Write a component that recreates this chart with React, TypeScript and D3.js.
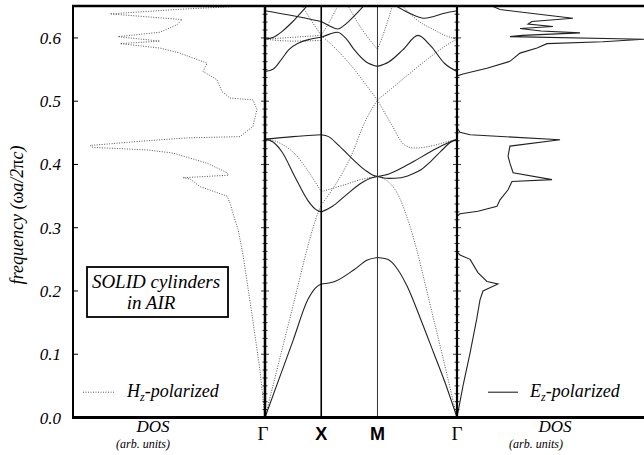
import React from 'react';
import * as d3 from 'd3';

const W = 644;
const H = 455;

// frequency axis
const yTicks = [0, 0.1, 0.2, 0.3, 0.4, 0.5, 0.6];
const yTickLabels = ['0.0', '0.1', '0.2', '0.3', '0.4', '0.5', '0.6'];
const fMax = 0.65;

// k-path: Γ X M Γ
const kPoints = [0, 1, 2, 2 + Math.SQRT2];
const kLabels = ['Γ', 'X', 'M', 'Γ'];

type P = [number, number];

// E_z (TM) bands, solid  [k, frequency]
const tm1: P[] = [[0, 0], [0.25, 0.061], [0.5, 0.122], [0.76, 0.186], [0.9, 0.205], [1, 0.211], [1.24, 0.215], [1.59, 0.234], [1.82, 0.249], [2, 0.253], [2.18, 0.25], [2.36, 0.234], [2.53, 0.207], [2.77, 0.155], [3.0, 0.102], [3.19, 0.058], [3.414, 0]];
const tm2: P[] = [[0, 0.44], [0.15, 0.435], [0.3, 0.42], [0.54, 0.379], [0.77, 0.342], [0.9, 0.329], [1, 0.325], [1.2, 0.334], [1.42, 0.35], [1.72, 0.371], [1.9, 0.379], [2, 0.381]];
const tm3: P[] = [[0, 0.44], [0.5, 0.444], [1, 0.447], [1.13, 0.444], [1.3, 0.431], [1.54, 0.41], [1.78, 0.391], [1.92, 0.383], [2, 0.381]];
const tm4: P[] = [[2, 0.381], [2.2, 0.385], [2.42, 0.394], [2.65, 0.405], [2.9, 0.418], [3.15, 0.43], [3.414, 0.44]];
const tm5: P[] = [[2, 0.381], [2.2, 0.378], [2.42, 0.379], [2.6, 0.384], [2.78, 0.392], [2.95, 0.405], [3.13, 0.421], [3.3, 0.435], [3.414, 0.44]];
const tm6: P[] = [[0, 0.547], [0.15, 0.551], [0.3, 0.567], [0.42, 0.581], [0.6, 0.592], [0.8, 0.598], [1, 0.601], [1.15, 0.606], [1.29, 0.609], [1.45, 0.598], [1.59, 0.581], [1.8, 0.562], [2, 0.555], [2.2, 0.562], [2.45, 0.581], [2.72, 0.604], [2.95, 0.587], [3.19, 0.56], [3.414, 0.547]];
const tm7: P[] = [[0, 0.643], [0.5, 0.635], [1, 0.626], [1.15, 0.619], [1.29, 0.614], [1.45, 0.623], [1.6, 0.636], [1.77, 0.652]];
const tm8: P[] = [[0, 0.598], [0.15, 0.601], [0.3, 0.61], [0.45, 0.622], [0.6, 0.636], [0.76, 0.652]];
const tm9: P[] = [[2.3, 0.652], [2.55, 0.64], [2.83, 0.631], [3.0, 0.634], [3.19, 0.639], [3.414, 0.643]];

// H_z (TE) bands, dotted
const te1: P[] = [[0, 0], [0.5, 0.177], [0.8, 0.283], [0.9, 0.313], [1, 0.336], [1.36, 0.384], [1.53, 0.413], [1.77, 0.466], [2, 0.502]];
const te2: P[] = [[0, 0.44], [0.15, 0.438], [0.3, 0.432], [0.54, 0.416], [0.77, 0.389], [1, 0.357], [1.42, 0.368], [1.7, 0.376], [2, 0.381], [2.2, 0.372], [2.35, 0.355], [2.55, 0.31], [3.0, 0.155], [3.414, 0]];
const te3: P[] = [[2, 0.502], [2.25, 0.463], [2.48, 0.431], [2.65, 0.426], [3.0, 0.43], [3.2, 0.435], [3.414, 0.44]];
const te4: P[] = [[2, 0.502], [2.25, 0.52], [2.48, 0.537], [2.74, 0.556], [3.0, 0.574], [3.2, 0.587], [3.414, 0.598]];
const te5: P[] = [[0, 0.598], [0.5, 0.601], [1, 0.604], [1.29, 0.58], [1.59, 0.55], [1.82, 0.523], [2, 0.502]];
const te6: P[] = [[0.65, 0.652], [0.82, 0.628], [1, 0.604], [1.15, 0.626], [1.3, 0.652]];
const te7: P[] = [[0, 0.598], [0.5, 0.595], [1, 0.596]];
const te8: P[] = [[1.47, 0.652], [1.7, 0.617], [2, 0.582], [2.12, 0.61], [2.27, 0.652]];
const te9: P[] = [[2.43, 0.652], [2.74, 0.626], [3.0, 0.613], [3.2, 0.604], [3.414, 0.598]];

const tmBands = [tm1, tm2, tm3, tm4, tm5, tm6, tm7, tm8, tm9];
const teBands = [te1, te2, te3, te4, te5, te6, te7, te8, te9];

// H_z DOS (left panel): frequency, DOS (arb.)
const hzFreq = [0, 0.074, 0.153, 0.258, 0.297, 0.323, 0.339, 0.35, 0.365, 0.377, 0.379, 0.383, 0.387, 0.402, 0.418, 0.423, 0.427, 0.43, 0.437, 0.442, 0.444, 0.46, 0.487, 0.502, 0.505, 0.515, 0.534, 0.547, 0.56, 0.576, 0.584, 0.591, 0.595, 0.602, 0.609, 0.621, 0.629, 0.638, 0.645, 0.65];
const hzDos = [0, 0.026, 0.063, 0.115, 0.14, 0.167, 0.182, 0.198, 0.339, 0.39, 0.427, 0.19, 0.198, 0.302, 0.479, 0.615, 0.896, 0.911, 0.635, 0.406, 0.13, 0.063, 0.042, 0.063, 0.182, 0.224, 0.25, 0.323, 0.302, 0.443, 0.547, 0.755, 0.547, 0.766, 0.547, 0.458, 0.432, 0.807, 0.458, 0.14];

// E_z DOS (right panel)
const ezFreq = [0, 0.05, 0.102, 0.155, 0.186, 0.2, 0.211, 0.215, 0.229, 0.25, 0.257, 0.262, 0.318, 0.322, 0.326, 0.334, 0.344, 0.36, 0.373, 0.376, 0.387, 0.402, 0.413, 0.429, 0.439, 0.447, 0.451, 0.458, 0.54, 0.543, 0.552, 0.563, 0.576, 0.584, 0.591, 0.594, 0.598, 0.602, 0.604, 0.608, 0.611, 0.615, 0.618, 0.622, 0.626, 0.631, 0.637, 0.645, 0.65];
const ezDos = [0, 0.032, 0.07, 0.105, 0.123, 0.139, 0.219, 0.16, 0.112, 0.07, 0.016, 0, 0, 0.016, 0.112, 0.214, 0.23, 0.273, 0.294, 0.508, 0.3, 0.283, 0.273, 0.283, 0.551, 0.07, 0.016, 0, 0, 0.032, 0.16, 0.283, 0.337, 0.428, 0.481, 0.78, 1.0, 0.283, 0.35, 0.658, 0.45, 0.337, 0.513, 0.38, 0.4, 0.62, 0.45, 0.23, 0.19];

// geometry
const xLeft = 73;
const xBandL = 265;
const xBandR = 457;
const yTop = 6;
const yBot = 417.5;

const serif = "Liberation Serif, Times New Roman, Times, serif";
const sans = "Liberation Sans, Arial, Helvetica, sans-serif";

export default function App() {
  const y = d3.scaleLinear().domain([0, fMax]).range([yBot, yTop + 0.3]);
  const xk = d3.scaleLinear().domain([0, kPoints[3]]).range([xBandL, xBandR]);
  const xHz = d3.scaleLinear().domain([0, 1]).range([xBandL, xLeft]);
  const xEz = d3.scaleLinear().domain([0, 1]).range([xBandR, W]);

  const bandLine = d3.line<P>().x(d => xk(d[0])).y(d => y(d[1])).curve(d3.curveMonotoneX);

  const segPaths = (band: P[]) => {
    const out: string[] = [];
    for (let s = 0; s < 3; s++) {
      const a = kPoints[s] - 1e-6, b = kPoints[s + 1] + 0.01;
      const pts = band.filter(p => p[0] >= a && p[0] <= b);
      if (pts.length >= 2) out.push(bandLine(pts) as string);
    }
    return out;
  };

  const hzLine = d3.line<number>().x((_, i) => xHz(hzDos[i])).y(d => y(d));
  const ezLine = d3.line<number>().x((_, i) => xEz(ezDos[i])).y(d => y(d));

  const minorTicks = d3.range(0, fMax + 1e-9, 0.0125);

  const dotted = { stroke: '#555', strokeWidth: 1, strokeDasharray: '1 1.5', fill: 'none' };
  const solid = { stroke: '#222', strokeWidth: 1.1, fill: 'none' };

  return (
    <svg width={W} height={H} style={{ position: 'absolute', left: 0, top: 0, background: '#fff' }}>
      <defs>
        <clipPath id="plot">
          <rect x={xLeft} y={yTop} width={W - xLeft} height={yBot - yTop} />
        </clipPath>
      </defs>
      <rect x={0} y={0} width={W} height={H} fill="#fff" />

      <g clipPath="url(#plot)">
        {teBands.map((b, i) => segPaths(b).map((d, j) => <path key={`te${i}-${j}`} d={d} {...dotted} />))}
        {tmBands.map((b, i) => segPaths(b).map((d, j) => <path key={`tm${i}-${j}`} d={d} {...solid} />))}
        <path d={hzLine(hzFreq) as string} {...dotted} />
        <path d={ezLine(ezFreq) as string} {...solid} />
      </g>

      {/* X and M vertical lines */}
      <line x1={xk(kPoints[1])} x2={xk(kPoints[1])} y1={yTop} y2={yBot} stroke="#000" strokeWidth={1.6} />
      <line x1={xk(kPoints[2])} x2={xk(kPoints[2])} y1={yTop} y2={yBot} stroke="#333" strokeWidth={1} />

      {/* frame */}
      <line x1={xLeft - 1} x2={W} y1={yTop} y2={yTop} stroke="#000" strokeWidth={2.5} />
      <line x1={xLeft - 1} x2={W} y1={yBot} y2={yBot} stroke="#000" strokeWidth={3} />
      <line x1={xLeft} x2={xLeft} y1={yTop} y2={yBot} stroke="#000" strokeWidth={2} />
      <line x1={xBandL} x2={xBandL} y1={yTop} y2={yBot} stroke="#000" strokeWidth={2.5} />
      <line x1={xBandR} x2={xBandR} y1={yTop} y2={yBot} stroke="#000" strokeWidth={2.2} />

      {/* ticks */}
      {yTicks.map(t => (
        <line key={`lt${t}`} x1={xLeft} x2={xLeft + 5} y1={y(t)} y2={y(t)} stroke="#000" strokeWidth={1} />
      ))}
      {[xBandL, xBandR].map(xx => minorTicks.map(t => {
        const major = Math.abs(t * 10 - Math.round(t * 10)) < 1e-6;
        const len = major ? 4 : 2.5;
        return <line key={`mt${xx}-${t}`} x1={xx - len} x2={xx + len} y1={y(t)} y2={y(t)} stroke="#000" strokeWidth={0.8} />;
      }))}

      {/* y tick labels */}
      {yTicks.map((t, i) => (
        <text key={`yl${t}`} x={61} y={y(t) + 6} textAnchor="end" fontFamily={serif} fontStyle="italic" fontSize={17}>{yTickLabels[i]}</text>
      ))}

      {/* y axis title */}
      <text transform={`translate(23, 215) rotate(-90)`} textAnchor="middle" fontFamily={serif} fontStyle="italic" fontSize={18}>
        frequency (<tspan fontStyle="normal">ω</tspan>a/2<tspan fontStyle="normal">π</tspan>c)
      </text>

      {/* k labels */}
      {kPoints.map((k, i) => (
        i === 0 || i === 3 ? (
          <text key={`kl${i}`} x={xk(k) - (i === 0 ? 2 : 0)} y={440} textAnchor="middle" fontFamily={serif} fontSize={19}>{kLabels[i]}</text>
        ) : (
          <text key={`kl${i}`} x={xk(k)} y={440} textAnchor="middle" fontFamily={sans} fontWeight="bold" fontSize={18}>{kLabels[i]}</text>
        )
      ))}

      {/* DOS labels */}
      <text x={153} y={432} textAnchor="middle" fontFamily={serif} fontStyle="italic" fontSize={17}>DOS</text>
      <text x={143} y={448} textAnchor="middle" fontFamily={serif} fontStyle="italic" fontSize={12}>(arb. units)</text>
      <text x={555} y={432} textAnchor="middle" fontFamily={serif} fontStyle="italic" fontSize={17}>DOS</text>
      <text x={536} y={448} textAnchor="middle" fontFamily={serif} fontStyle="italic" fontSize={12}>(arb. units)</text>

      {/* legends */}
      <line x1={83} x2={115} y1={y(0.04)} y2={y(0.04)} {...dotted} />
      <text x={127} y={y(0.04) + 5} fontFamily={serif} fontStyle="italic" fontSize={18}>
        H<tspan dy={4} fontSize={12}>z</tspan><tspan dy={-4}>-polarized</tspan>
      </text>
      <line x1={488} x2={518} y1={y(0.04)} y2={y(0.04)} {...solid} />
      <text x={530} y={y(0.04) + 5} fontFamily={serif} fontStyle="italic" fontSize={18}>
        E<tspan dy={4} fontSize={12}>z</tspan><tspan dy={-4}>-polarized</tspan>
      </text>

      {/* annotation box */}
      <rect x={87} y={267} width={141} height={50} fill="#fff" stroke="#000" strokeWidth={1.8} />
      <text x={156} y={288} textAnchor="middle" fontFamily={serif} fontStyle="italic" fontSize={19}>SOLID cylinders</text>
      <text x={151} y={309} textAnchor="middle" fontFamily={serif} fontStyle="italic" fontSize={19}>in AIR</text>
    </svg>
  );
}
